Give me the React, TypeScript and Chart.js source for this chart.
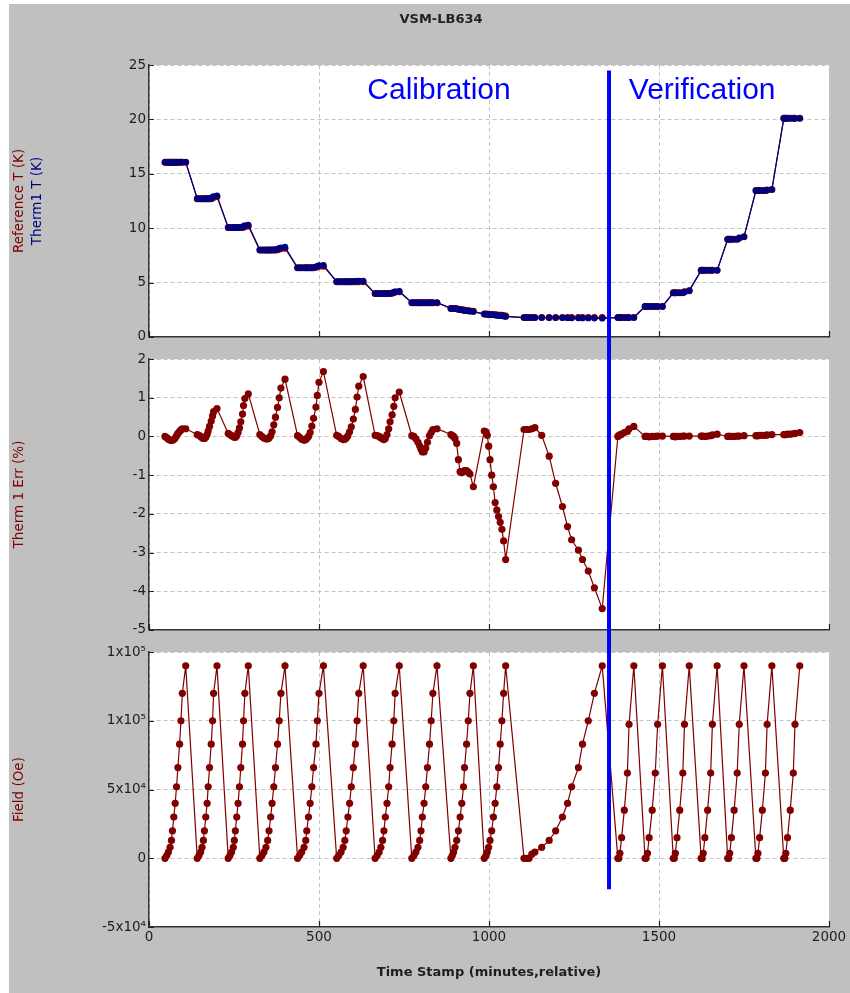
import React, { useEffect, useRef } from 'react';
import { Chart, registerables } from 'chart.js';

Chart.register(...registerables);

// ---------- texts ----------
const chartTitle = 'VSM-LB634';
const xAxisTitle = 'Time Stamp (minutes,relative)';
const topAxisTitles = ['Reference T (K)', 'Therm1 T (K)'];
const errAxisTitle = 'Therm 1 Err (%)';
const fieldAxisTitle = 'Field (Oe)';
const phaseLabels = ['Calibration', 'Verification'];
const phaseLabelX = [853, 1627];
const phaseLabelY = 21.9;

// ---------- divider (calibration / verification) ----------
const dividerX = 1353;
const dividerSpanT = [24.5, -3];
const dividerSpanErr = [3, -6];
const dividerSpanField = [170000, -22500];

// ---------- tick labels ----------
const fieldTickValues = [-50000, 0, 50000, 100000, 150000];
const fieldTickLabels = ['-5x10⁴', '0', '5x10⁴', '1x10⁵', '1x10⁵'];

// ---------- data ----------
const timeStamps = [
  47, 52, 57, 62, 66, 69, 73, 77, 81, 85, 90, 94, 98, 108,
  142, 147, 152, 156, 160, 163, 167, 171, 174, 178, 183, 187, 190, 200,
  233, 238, 243, 248, 251, 254, 258, 262, 266, 270, 275, 278, 282, 292,
  326, 332, 338, 344, 349, 353, 358, 362, 367, 372, 378, 383, 388, 400,
  437, 443, 449, 456, 461, 464, 469, 474, 479, 484, 491, 495, 500, 513,
  552, 558, 565, 571, 576, 580, 585, 590, 595, 601, 607, 612, 617, 630,
  665, 671, 677, 682, 687, 691, 695, 700, 705, 709, 715, 720, 724, 736,
  773, 779, 785, 791, 796, 800, 804, 809, 814, 819, 825, 830, 835, 847,
  888, 892, 896, 900, 905, 910, 915, 920, 925, 928, 934, 939, 944, 954,
  986, 991, 995, 999, 1003, 1008, 1013, 1018, 1023, 1028, 1033, 1038, 1043, 1049,
  1103, 1111, 1118, 1126, 1135, 1155, 1177, 1196, 1216, 1231, 1243, 1263, 1275, 1292, 1310, 1333,
  1379, 1382, 1385, 1390, 1398, 1407, 1412, 1426,
  1459, 1462, 1466, 1471, 1480, 1489, 1496, 1510,
  1542, 1545, 1548, 1553, 1561, 1570, 1575, 1589,
  1624, 1627, 1630, 1635, 1643, 1652, 1657, 1671,
  1702, 1705, 1708, 1713, 1721, 1730, 1736, 1750,
  1785, 1788, 1791, 1796, 1804, 1813, 1818, 1832,
  1867, 1870, 1873, 1878, 1886, 1895, 1900, 1914,
];

const referenceT = [
  16.05, 16.05, 16.05, 16.05, 16.05, 16.05, 16.05, 16.05, 16.05, 16.05, 16.05, 16.05, 16.05, 16.05,
  12.7, 12.7, 12.7, 12.7, 12.7, 12.7, 12.7, 12.7, 12.7, 12.7, 12.7, 12.8, 12.85, 12.9,
  10.05, 10.05, 10.05, 10.05, 10.05, 10.05, 10.05, 10.05, 10.05, 10.05, 10.05, 10.1, 10.15, 10.2,
  7.98, 7.98, 7.98, 7.98, 7.98, 7.98, 7.98, 7.98, 7.98, 7.98, 8.02, 8.08, 8.12, 8.15,
  6.35, 6.35, 6.35, 6.35, 6.35, 6.35, 6.35, 6.35, 6.35, 6.35, 6.4, 6.45, 6.5, 6.5,
  5.08, 5.08, 5.08, 5.08, 5.08, 5.08, 5.08, 5.08, 5.08, 5.08, 5.08, 5.08, 5.08, 5.08,
  3.98, 3.98, 3.98, 3.98, 3.98, 3.98, 3.98, 3.98, 3.98, 3.98, 4.02, 4.08, 4.12, 4.15,
  3.15, 3.15, 3.15, 3.15, 3.15, 3.15, 3.15, 3.15, 3.15, 3.15, 3.15, 3.15, 3.15, 3.15,
  2.62, 2.62, 2.6, 2.6, 2.58, 2.55, 2.52, 2.5, 2.48, 2.45, 2.42, 2.4, 2.38, 2.35,
  2.1, 2.1, 2.08, 2.08, 2.06, 2.05, 2.05, 2.03, 2.02, 2.0, 2.0, 1.98, 1.95, 1.92,
  1.78, 1.78, 1.78, 1.78, 1.78, 1.78, 1.78, 1.78, 1.78, 1.78, 1.78, 1.78, 1.78, 1.78, 1.78, 1.78,
  1.78, 1.78, 1.78, 1.78, 1.78, 1.78, 1.78, 1.78,
  2.8, 2.8, 2.8, 2.8, 2.8, 2.8, 2.8, 2.8,
  4.05, 4.05, 4.05, 4.05, 4.05, 4.05, 4.15, 4.25,
  6.12, 6.12, 6.12, 6.12, 6.12, 6.12, 6.12, 6.12,
  8.98, 8.98, 8.98, 8.98, 8.98, 8.98, 9.1, 9.2,
  13.45, 13.45, 13.45, 13.45, 13.45, 13.45, 13.5, 13.55,
  20.1, 20.1, 20.1, 20.1, 20.1, 20.1, 20.1, 20.1,
];

const therm1T = [
  16.05, 16.05, 16.04, 16.03, 16.03, 16.03, 16.04, 16.04, 16.05, 16.06, 16.07, 16.08, 16.08, 16.08,
  12.71, 12.7, 12.7, 12.7, 12.69, 12.69, 12.7, 12.71, 12.72, 12.73, 12.75, 12.87, 12.93, 12.99,
  10.06, 10.06, 10.05, 10.05, 10.05, 10.05, 10.05, 10.06, 10.07, 10.09, 10.11, 10.18, 10.25, 10.31,
  7.98, 7.98, 7.98, 7.98, 7.98, 7.98, 7.98, 7.99, 8.0, 8.02, 8.08, 8.16, 8.22, 8.27,
  6.35, 6.35, 6.35, 6.34, 6.35, 6.35, 6.35, 6.36, 6.37, 6.38, 6.45, 6.52, 6.59, 6.61,
  5.08, 5.08, 5.08, 5.08, 5.08, 5.08, 5.08, 5.09, 5.09, 5.1, 5.12, 5.13, 5.15, 5.16,
  3.98, 3.98, 3.98, 3.98, 3.98, 3.98, 3.98, 3.98, 3.99, 3.99, 4.04, 4.11, 4.16, 4.2,
  3.15, 3.15, 3.15, 3.15, 3.14, 3.14, 3.14, 3.14, 3.14, 3.15, 3.15, 3.15, 3.16, 3.16,
  2.62, 2.62, 2.6, 2.6, 2.58, 2.54, 2.5, 2.48, 2.46, 2.43, 2.4, 2.38, 2.36, 2.32,
  2.1, 2.1, 2.08, 2.07, 2.05, 2.03, 2.02, 2.0, 1.98, 1.96, 1.96, 1.93, 1.9, 1.86,
  1.78, 1.78, 1.78, 1.78, 1.78, 1.78, 1.77, 1.76, 1.75, 1.74, 1.73, 1.73, 1.72, 1.72, 1.71, 1.7,
  1.78, 1.78, 1.78, 1.78, 1.78, 1.78, 1.78, 1.78,
  2.8, 2.8, 2.8, 2.8, 2.8, 2.8, 2.8, 2.8,
  4.05, 4.05, 4.05, 4.05, 4.05, 4.05, 4.15, 4.25,
  6.12, 6.12, 6.12, 6.12, 6.12, 6.12, 6.12, 6.12,
  8.98, 8.98, 8.98, 8.98, 8.98, 8.98, 9.1, 9.2,
  13.45, 13.45, 13.45, 13.45, 13.45, 13.45, 13.5, 13.55,
  20.1, 20.1, 20.1, 20.1, 20.1, 20.1, 20.1, 20.1,
];

const therm1ErrPct = [
  0, -0.03, -0.07, -0.1, -0.1, -0.1, -0.08, -0.04, 0.02, 0.08, 0.13, 0.17, 0.2, 0.2,
  0.05, 0.03, 0.0, -0.03, -0.05, -0.05, -0.02, 0.05, 0.14, 0.26, 0.4, 0.53, 0.64, 0.72,
  0.08, 0.05, 0.02, 0.0, -0.02, -0.02, 0.02, 0.1, 0.22, 0.38, 0.58, 0.8, 0.98, 1.1,
  0.05, 0.0, -0.04, -0.06, -0.06, -0.04, 0.02, 0.12, 0.3, 0.5, 0.75, 1.0, 1.25, 1.48,
  0.02, -0.02, -0.07, -0.1, -0.08, -0.05, 0.0, 0.1, 0.27, 0.47, 0.76, 1.06, 1.4, 1.68,
  0.03, 0.0, -0.05, -0.08, -0.07, -0.04, 0.02, 0.12, 0.25, 0.45, 0.7, 1.02, 1.3, 1.55,
  0.03, 0.02, 0.0, -0.03, -0.06, -0.08, -0.05, 0.05, 0.2, 0.38, 0.56, 0.78, 1.0, 1.15,
  0.02, 0.0, -0.06, -0.15, -0.24, -0.33, -0.4, -0.4, -0.3, -0.15, 0.02, 0.1, 0.18, 0.2,
  0.05, 0.02, 0.0, -0.05, -0.18, -0.6, -0.91, -0.94, -0.9, -0.88, -0.88, -0.92, -0.97, -1.3,
  0.14, 0.12, 0.03, -0.25, -0.6, -1.0, -1.3, -1.71, -1.9, -2.07, -2.22, -2.4, -2.7, -3.18,
  0.18, 0.18, 0.18, 0.2, 0.23, 0.03, -0.51, -1.21, -1.81, -2.33, -2.67, -2.94, -3.18, -3.48, -3.91, -4.45,
  0.0, 0.03, 0.04, 0.06, 0.1, 0.13, 0.2, 0.26,
  0.0, 0.0, 0.0, -0.01, 0.0, 0.0, 0.01, 0.01,
  0.0, 0.0, -0.01, 0.0, 0.0, 0.01, 0.01, 0.01,
  0.01, 0.01, 0.0, 0.0, 0.01, 0.02, 0.04, 0.06,
  0.0, 0.0, 0.0, 0.0, 0.0, 0.01, 0.01, 0.02,
  0.02, 0.02, 0.02, 0.03, 0.03, 0.03, 0.04, 0.05,
  0.05, 0.05, 0.05, 0.06, 0.06, 0.07, 0.08, 0.1,
];

const fieldOe = [
  0, 2000, 4500, 8000, 13000, 20000, 30000, 40000, 52000, 66000, 83000, 100000, 120000, 140000,
  0, 2000, 4500, 8000, 13000, 20000, 30000, 40000, 52000, 66000, 83000, 100000, 120000, 140000,
  0, 2000, 4500, 8000, 13000, 20000, 30000, 40000, 52000, 66000, 83000, 100000, 120000, 140000,
  0, 2000, 4500, 8000, 13000, 20000, 30000, 40000, 52000, 66000, 83000, 100000, 120000, 140000,
  0, 2000, 4500, 8000, 13000, 20000, 30000, 40000, 52000, 66000, 83000, 100000, 120000, 140000,
  0, 2000, 4500, 8000, 13000, 20000, 30000, 40000, 52000, 66000, 83000, 100000, 120000, 140000,
  0, 2000, 4500, 8000, 13000, 20000, 30000, 40000, 52000, 66000, 83000, 100000, 120000, 140000,
  0, 2000, 4500, 8000, 13000, 20000, 30000, 40000, 52000, 66000, 83000, 100000, 120000, 140000,
  0, 2000, 4500, 8000, 13000, 20000, 30000, 40000, 52000, 66000, 83000, 100000, 120000, 140000,
  0, 2000, 4500, 8000, 13000, 20000, 30000, 40000, 52000, 66000, 83000, 100000, 120000, 140000,
  0, 0, 0, 3000, 4500, 8000, 13000, 20000, 30000, 40000, 52000, 66000, 83000, 100000, 120000, 140000,
  0, 0, 3600, 15000, 35000, 62000, 97500, 140000,
  0, 0, 3600, 15000, 35000, 62000, 97500, 140000,
  0, 0, 3600, 15000, 35000, 62000, 97500, 140000,
  0, 0, 3600, 15000, 35000, 62000, 97500, 140000,
  0, 0, 3600, 15000, 35000, 62000, 97500, 140000,
  0, 0, 3600, 15000, 35000, 62000, 97500, 140000,
  0, 0, 3600, 15000, 35000, 62000, 97500, 140000,
];

// ---------- styles ----------
const FONT = 'DejaVu Sans';
const RED = '#800000';
const NAVY = '#000080';
const BLUE = '#0000ff';
const GRID = '#c4c4c4';
const INK = '#1e1e1e';
const PAGE_W = 841;
const H_TOP = 344;
const H_MID = 293;
const H_BOT = 352;

const toXY = (ys: number[]) => timeStamps.map((t, i) => ({ x: t, y: ys[i] }));

const dividerDataset = (span: number[]) => ({
  data: [{ x: dividerX, y: span[0] }, { x: dividerX, y: span[1] }],
  borderColor: BLUE,
  borderWidth: 4,
  pointRadius: 0,
  clip: false as any,
  order: 0,
});

const seriesDataset = (ys: number[], color: string, radius: number, order: number) => ({
  data: toXY(ys),
  borderColor: color,
  backgroundColor: color,
  borderWidth: 1.2,
  pointRadius: radius,
  pointBorderWidth: 0,
  pointBackgroundColor: color,
  order,
});

function xScale(withLabels: boolean) {
  return {
    type: 'linear',
    min: 0,
    max: 2000,
    ticks: {
      display: withLabels,
      stepSize: 500,
      padding: 2,
      maxRotation: 0,
      color: INK,
      font: { family: FONT, size: 13.5 },
      callback: (v: number) => String(v),
    },
    grid: { color: GRID, lineWidth: 1, drawTicks: false },
    border: { display: true, color: '#333', width: 1.5, dash: [4, 3] },
    title: withLabels
      ? {
          display: true,
          text: xAxisTitle,
          color: INK,
          font: { family: FONT, size: 13, weight: 'bold' },
          padding: { top: 0, bottom: 13 },
        }
      : { display: false },
    afterFit: (s: any) => {
      s.height = withLabels ? 66 : 0;
    },
  };
}

function yScale(min: number, max: number, step: number, width: number, title?: string, cb?: (v: number) => string) {
  return {
    type: 'linear',
    min,
    max,
    ticks: {
      stepSize: step,
      padding: 3,
      color: INK,
      font: { family: FONT, size: 13.5 },
      ...(cb ? { callback: cb } : {}),
    },
    grid: { color: GRID, lineWidth: 1, drawTicks: false },
    border: { display: true, color: '#333', width: 1.5, dash: [4, 3] },
    title: title
      ? {
          display: true,
          text: title,
          color: RED,
          font: { family: FONT, size: 13.5 },
          padding: { top: 2, bottom: 0 },
        }
      : { display: false },
    afterFit: (s: any) => {
      s.width = width;
    },
  };
}

const whiteArea = {
  id: 'whiteArea',
  beforeDraw(chart: any) {
    const { ctx, chartArea: a } = chart;
    ctx.save();
    ctx.fillStyle = '#ffffff';
    ctx.fillRect(a.left, a.top, a.right - a.left, a.bottom - a.top);
    ctx.restore();
  },
};

const inwardTicks = {
  id: 'inwardTicks',
  afterDraw(chart: any) {
    const { ctx, chartArea: a, scales } = chart;
    const x = scales.x;
    const y = scales.y;
    ctx.save();
    ctx.strokeStyle = '#222';
    ctx.lineWidth = 1.2;
    ctx.beginPath();
    x.ticks.forEach((t: any) => {
      const px = Math.round(x.getPixelForValue(t.value)) + 0.5;
      ctx.moveTo(px, a.bottom);
      ctx.lineTo(px, a.bottom - 6);
    });
    y.ticks.forEach((t: any) => {
      const py = Math.round(y.getPixelForValue(t.value)) + 0.5;
      ctx.moveTo(a.left, py);
      ctx.lineTo(a.left + 5, py);
    });
    ctx.stroke();
    ctx.restore();
  },
};

const topDecor = {
  id: 'topDecor',
  afterDatasetsDraw(chart: any) {
    const { ctx, scales } = chart;
    ctx.save();
    ctx.fillStyle = BLUE;
    ctx.font = '30px "Liberation Sans", Arial, sans-serif';
    ctx.textAlign = 'center';
    ctx.textBaseline = 'alphabetic';
    phaseLabels.forEach((lbl, i) => {
      ctx.fillText(lbl, scales.x.getPixelForValue(phaseLabelX[i]), scales.y.getPixelForValue(phaseLabelY));
    });
    ctx.restore();
  },
  afterDraw(chart: any) {
    const { ctx, chartArea: a } = chart;
    const cy = (a.top + a.bottom) / 2;
    const xs = [10, 28];
    const colors = [RED, NAVY];
    ctx.save();
    ctx.font = `13.5px "${FONT}"`;
    ctx.textAlign = 'center';
    ctx.textBaseline = 'middle';
    topAxisTitles.forEach((t, i) => {
      ctx.save();
      ctx.translate(xs[i], cy);
      ctx.rotate(-Math.PI / 2);
      ctx.fillStyle = colors[i];
      ctx.fillText(t, 0, 0);
      ctx.restore();
    });
    ctx.restore();
  },
};

const commonOptions = {
  animation: false,
  responsive: false,
  maintainAspectRatio: false,
  events: [],
};

export default function App() {
  const topRef = useRef<HTMLCanvasElement>(null);
  const midRef = useRef<HTMLCanvasElement>(null);
  const botRef = useRef<HTMLCanvasElement>(null);

  useEffect(() => {
    document.body.style.overflow = 'hidden';
    const charts: Chart[] = [];

    charts.push(
      new Chart(topRef.current as HTMLCanvasElement, {
        type: 'line',
        data: {
          datasets: [
            dividerDataset(dividerSpanT),
            seriesDataset(therm1T, NAVY, 3.1, 1),
            seriesDataset(referenceT, RED, 3.5, 2),
          ] as any,
        },
        options: {
          ...commonOptions,
          layout: { padding: { left: 44, right: 21, top: 0, bottom: 11 } },
          scales: {
            x: xScale(false),
            y: yScale(0, 25, 5, 96),
          },
          plugins: {
            legend: { display: false },
            tooltip: { enabled: false },
            title: {
              display: true,
              text: chartTitle,
              color: '#222',
              font: { family: FONT, size: 13, weight: 'bold' },
              padding: { top: 8, bottom: 37.4 },
            },
          },
        } as any,
        plugins: [whiteArea, inwardTicks, topDecor],
      })
    );

    charts.push(
      new Chart(midRef.current as HTMLCanvasElement, {
        type: 'line',
        data: {
          datasets: [dividerDataset(dividerSpanErr), seriesDataset(therm1ErrPct, RED, 3.6, 1)] as any,
        },
        options: {
          ...commonOptions,
          layout: { padding: { left: 0, right: 21, top: 10, bottom: 11 } },
          scales: {
            x: xScale(false),
            y: yScale(-5, 2, 1, 140, errAxisTitle),
          },
          plugins: { legend: { display: false }, tooltip: { enabled: false } },
        } as any,
        plugins: [whiteArea, inwardTicks],
      })
    );

    charts.push(
      new Chart(botRef.current as HTMLCanvasElement, {
        type: 'line',
        data: {
          datasets: [dividerDataset(dividerSpanField), seriesDataset(fieldOe, RED, 3.6, 1)] as any,
        },
        options: {
          ...commonOptions,
          layout: { padding: { left: 0, right: 21, top: 11, bottom: 0 } },
          scales: {
            x: xScale(true),
            y: yScale(-50000, 150000, 50000, 140, fieldAxisTitle, (v: number) => {
              const i = fieldTickValues.indexOf(v);
              return i >= 0 ? fieldTickLabels[i] : '';
            }),
          },
          plugins: { legend: { display: false }, tooltip: { enabled: false } },
        } as any,
        plugins: [whiteArea, inwardTicks],
      })
    );

    return () => {
      charts.forEach((c) => c.destroy());
    };
  }, []);

  const canvasStyle = (top: number, h: number): React.CSSProperties => ({
    position: 'absolute',
    left: 0,
    top,
    width: PAGE_W,
    height: h,
    display: 'block',
  });

  return (
    <div
      style={{
        position: 'absolute',
        left: 9,
        top: 4,
        width: PAGE_W,
        height: H_TOP + H_MID + H_BOT,
        background: '#c0c0c0',
        overflow: 'hidden',
      }}
    >
      <canvas ref={topRef} width={PAGE_W} height={H_TOP} style={canvasStyle(0, H_TOP)} />
      <canvas ref={midRef} width={PAGE_W} height={H_MID} style={canvasStyle(H_TOP, H_MID)} />
      <canvas ref={botRef} width={PAGE_W} height={H_BOT} style={canvasStyle(H_TOP + H_MID, H_BOT)} />
    </div>
  );
}
